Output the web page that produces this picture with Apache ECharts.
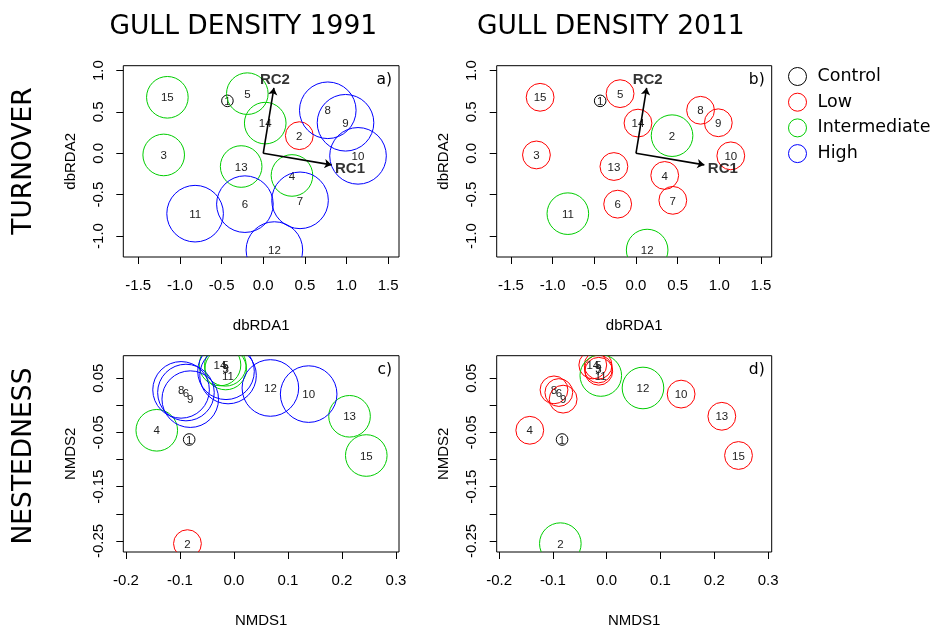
<!DOCTYPE html>
<html><head><meta charset="utf-8">
<script src="https://cdn.jsdelivr.net/npm/echarts@6/dist/echarts.min.js"></script>
<style>html,body{margin:0;padding:0;background:#fff}#c{width:933px;height:629px}</style>
</head><body><div id="c"></div><script>
// ---- data ----
const siteIds = [1,2,3,4,5,6,7,8,9,10,11,12,13,14,15];
const turnoverX = [-0.43, 0.433, -1.195, 0.345, -0.191, -0.22, 0.442, 0.775, 0.988, 1.138, -0.818, 0.134, -0.265, 0.024, -1.151];
const turnoverY = [0.634, 0.213, -0.02, -0.268, 0.721, -0.615, -0.569, 0.52, 0.369, -0.031, -0.73, -1.17, -0.16, 0.365, 0.677];
const nestX = [-0.083, -0.0862, -0.0154, -0.143, -0.016, -0.089, -0.0148, -0.098, -0.081, 0.1383, -0.011, 0.0674, 0.214, -0.0259, 0.245];
const nestY = [-0.063, -0.255, 0.067, -0.046, 0.0738, 0.0236, 0.0628, 0.0285, 0.0114, 0.0207, 0.055, 0.032, -0.0202, 0.0744, -0.0925];
const group1991 = ['Control','Low','Intermediate','Intermediate','Intermediate','High','High','High','High','High','High','High','Intermediate','Intermediate','Intermediate'];
const group2011 = ['Control','Intermediate','Low','Low','Low','Low','Low','Low','Low','Low','Intermediate','Intermediate','Low','Low','Low'];
const groupNames = ['Control','Low','Intermediate','High'];
const arrowNames = ['RC1','RC2'];
const arrowX = [0.82, 0.128];
const arrowY = [-0.14, 0.79];
const turnTicksX = [-1.5,-1.0,-0.5,0.0,0.5,1.0,1.5];
const turnTicksY = [-1.0,-0.5,0.0,0.5,1.0];
const nestTicksX = [-0.2,-0.1,0.0,0.1,0.2,0.3];
const nestTicksY = [-0.25,-0.2,-0.15,-0.1,-0.05,0.0,0.05];
const nestLabelsY = [-0.25,-0.15,-0.05,0.05];

// ---- styles ----
const groupColor = {Control:'#000000', Low:'#FF0000', Intermediate:'#00CD00', High:'#0000FF'};
const groupDiam = {Control:11.6, Low:27.8, Intermediate:41.6, High:56.6};
const AX = 'Liberation Sans, Arial, sans-serif';
const DV = 'DejaVu Sans, Verdana, sans-serif';

const grids = [
  {left:123.3, top:65.7, width:275.7, height:191.3},
  {left:496.7, top:65.7, width:275, height:191.3},
  {left:123.3, top:355.7, width:275.7, height:197},
  {left:496.7, top:355.7, width:275, height:197}
].map(g => Object.assign(g, {show:true, borderColor:'#000', borderWidth:1, backgroundColor:'transparent', containLabel:false}));

const panels = [
  {xs:turnoverX, ys:turnoverY, groups:group1991, xr:[-1.68,1.63], yr:[-1.254,1.059], tx:turnTicksX, ty:turnTicksY, ly:turnTicksY, dx:1, dy:1, xn:'dbRDA1', yn:'dbRDA2', tag:'a)', arrows:true},
  {xs:turnoverX, ys:turnoverY, groups:group2011, xr:[-1.672,1.629], yr:[-1.254,1.059], tx:turnTicksX, ty:turnTicksY, ly:turnTicksY, dx:1, dy:1, xn:'dbRDA1', yn:'dbRDA2', tag:'b)', arrows:true},
  {xs:nestX, ys:nestY, groups:group1991, xr:[-0.205,0.3056], yr:[-0.2704,0.0915], tx:nestTicksX, ty:nestTicksY, ly:nestLabelsY, dx:1, dy:2, xn:'NMDS1', yn:'NMDS2', tag:'c)', arrows:false},
  {xs:nestX, ys:nestY, groups:group2011, xr:[-0.2045,0.3067], yr:[-0.2704,0.0915], tx:nestTicksX, ty:nestTicksY, ly:nestLabelsY, dx:1, dy:2, xn:'NMDS1', yn:'NMDS2', tag:'d)', arrows:false}
];

const xAxes = [], yAxes = [], series = [];
panels.forEach((p, i) => {
  xAxes.push({
    gridIndex:i, type:'value', min:p.xr[0], max:p.xr[1], position:'bottom',
    axisLine:{show:false, onZero:false}, splitLine:{show:false},
    axisTick:{show:true, inside:false, length:7, lineStyle:{color:'#000', width:1}, customValues:p.tx},
    axisLabel:{show:true, customValues:p.tx, formatter:v => Number(v).toFixed(p.dx), color:'#000', fontSize:15, fontFamily:AX, margin:21},
    name:p.xn, nameLocation:'middle', nameGap:61, nameTextStyle:{color:'#000', fontSize:15, fontFamily:AX}
  });
  yAxes.push({
    gridIndex:i, type:'value', min:p.yr[0], max:p.yr[1], position:'left',
    axisLine:{show:false, onZero:false}, splitLine:{show:false},
    axisTick:{show:true, inside:false, length:7, lineStyle:{color:'#000', width:1}, customValues:p.ty},
    axisLabel:{show:true, customValues:p.ly, rotate:90, formatter:v => Number(v).toFixed(p.dy), color:'#000', fontSize:15, fontFamily:AX, margin:17},
    name:p.yn, nameLocation:'middle', nameGap:45, nameRotate:90, nameTextStyle:{color:'#000', fontSize:15, fontFamily:AX}
  });
  groupNames.forEach(gn => {
    const data = [];
    siteIds.forEach((id, k) => { if (p.groups[k] === gn) data.push([p.xs[k], p.ys[k], id]); });
    series.push({
      type:'custom', name:gn, xAxisIndex:i, yAxisIndex:i, data, clip:true, silent:true,
      encode:{x:0, y:1},
      itemStyle:{color:groupColor[gn]},
      renderItem:(params, api) => {
        const c = api.coord([api.value(0), api.value(1)]);
        return {type:'group', children:[
          {type:'circle', shape:{cx:c[0], cy:c[1], r:groupDiam[gn]/2},
           style:{fill:'none', stroke:groupColor[gn], lineWidth:1}},
          {type:'text', x:c[0], y:c[1]+1,
           style:{text:String(api.value(2)), fill:'#222', font:'11.5px ' + AX, align:'center', verticalAlign:'middle'}}
        ]};
      },
      z:3
    });
  });
  if (p.arrows) {
    series.push({
      type:'lines', coordinateSystem:'cartesian2d', xAxisIndex:i, yAxisIndex:i, silent:true,
      data: arrowNames.map((n, k) => ({coords:[[0,0],[arrowX[k], arrowY[k]]]})),
      symbol:['none','arrow'], symbolSize:[0,7],
      lineStyle:{color:'#000', width:1.6, opacity:1}, z:5
    });
    series.push({
      type:'scatter', name:'arrowLabels', xAxisIndex:i, yAxisIndex:i, silent:true,
      symbolSize:1, itemStyle:{color:'rgba(0,0,0,0)'},
      data: arrowNames.map((n, k) => ({name:n, value:[arrowX[k], arrowY[k]],
        label: k === 0 ? {position:'right', distance:3, offset:[0,4]} : {position:'top', distance:0, offset:[1,0]}})),
      label:{show:true, formatter:q => q.name, color:'#000', fontSize:15, fontWeight:'bold', fontFamily:AX},
      emphasis:{disabled:true}, z:6
    });
  }
});

const tags = panels.map((p, i) => ({
  type:'text', x:grids[i].left + grids[i].width - 7, y:grids[i].top + 14,
  style:{text:p.tag, font:'15.5px ' + DV, fill:'#000', align:'right', verticalAlign:'middle'}
}));

const option = {
  animation:false,
  backgroundColor:'#fff',
  grid:grids, xAxis:xAxes, yAxis:yAxes, series,
  legend:{
    data:groupNames.map(n => ({name:n, icon:'circle',
      itemStyle:{color:'rgba(0,0,0,0)', borderColor:groupColor[n], borderWidth:1}})),
    orient:'vertical', left:783, top:62,
    itemWidth:18, itemHeight:18, itemGap:6.7, selectedMode:false,
    textStyle:{color:'#000', fontSize:17.5, fontFamily:DV, padding:[0,0,0,6]}
  },
  graphic:[
    {type:'text', x:243.3, y:27, style:{text:'GULL DENSITY 1991', font:'26.5px ' + DV, fill:'#000', align:'center', verticalAlign:'middle'}},
    {type:'text', x:610.8, y:27, style:{text:'GULL DENSITY 2011', font:'26.5px ' + DV, fill:'#000', align:'center', verticalAlign:'middle'}},
    {type:'text', x:23.7, y:161, rotation:Math.PI/2, style:{text:'TURNOVER', font:'26.5px ' + DV, fill:'#000', align:'center', verticalAlign:'middle'}},
    {type:'text', x:23.7, y:456, rotation:Math.PI/2, style:{text:'NESTEDNESS', font:'26.5px ' + DV, fill:'#000', align:'center', verticalAlign:'middle'}}
  ].concat(tags)
};
const chart = echarts.init(document.getElementById('c'), null, {renderer:'canvas'});
chart.setOption(option);
</script></body></html>
